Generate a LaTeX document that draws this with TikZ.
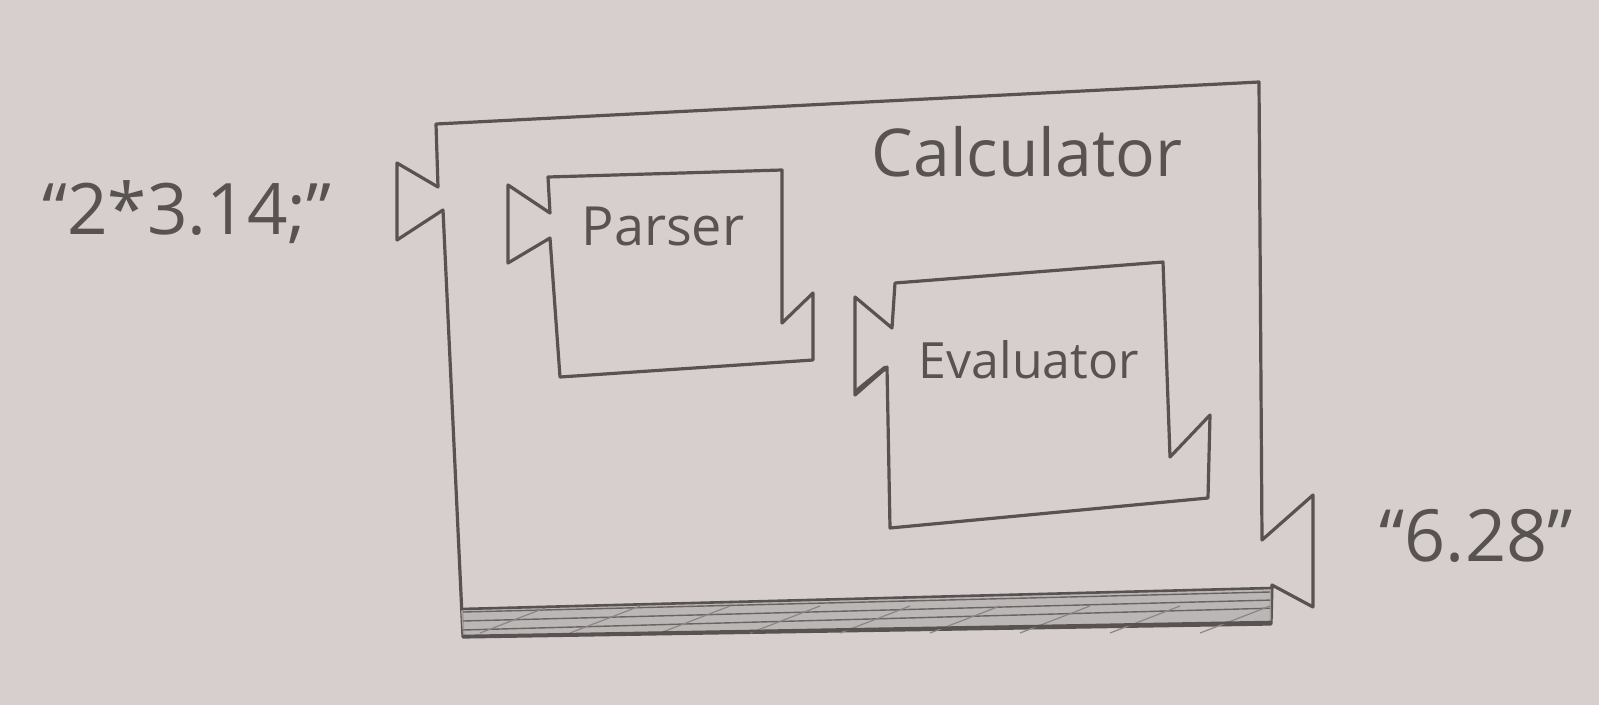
\documentclass[tikz,border=0pt]{standalone}
\usepackage{fontspec}
\setmainfont{Open Sans}
\definecolor{paper}{RGB}{214,207,205}
\definecolor{pencil}{RGB}{88,82,81}
\begin{document}
\begin{tikzpicture}[x=1pt,y=-1pt,
  sketch/.style={draw=pencil,line width=3.2pt,line join=round,line cap=round},
  hand/.style={text=pencil,inner sep=0pt,font=\fontsize{#1}{#1}\selectfont},
  hand/.default=50]
  % paper
  \fill[paper] (0,0) rectangle (1599,705);
  \useasboundingbox (0,0) rectangle (1599,705);

  % Calculator component with input port (left) and output port (bottom right)
  \draw[sketch] (436,124) -- (1259,82) -- (1262,540) -- (1313,495) -- (1313,607)
    -- (1272,585) -- (1271,624) -- (463,637) -- (443,210) -- (397,240)
    -- (397,163) -- (438,187) -- cycle;
  % shaded base bar
  \fill[pencil!45,opacity=0.8] (461,609) -- (1271,588) -- (1271,622) -- (463,636) -- cycle;
  \foreach \dy in {0,9,18} {
    \draw[pencil!90,line width=1.4pt] (463,{612+\dy}) -- (1270,{592+\dy*0.9});
  }
  \foreach \xx in {480,570,660,750,840,930,1020,1110,1200} {
    \draw[pencil!70,line width=1.2pt] (\xx,633) -- ({\xx+70},606);
  }
  \draw[pencil,line width=2.6pt] (461,609) -- (1271,588);
  \draw[pencil,line width=2.6pt] (463,636) -- (1271,622);

  % Parser
  \draw[sketch] (548,177) -- (782,170) -- (782,323) -- (813,293) -- (813,360)
    -- (560,377) -- (550,238) -- (508,263) -- (508,185) -- (550,213) -- cycle;

  % Evaluator
  \draw[sketch] (895,283) -- (1163,262) -- (1170,457) -- (1210,415) -- (1208,498)
    -- (890,528) -- (887,367) -- (855,395) -- (855,297) -- (892,328) -- cycle;
  \draw[pencil,line width=4.5pt,line cap=round] (858,390) -- (885,368);

  % labels
  \node[hand=66] (calc) at (1027,152) {Calculator};
  \node[hand=54] (parser) at (663,226) {Parser};
  \node[hand=50] (eval) at (1029,360) {Evaluator};
  \node[hand=71] (in) at (187,212) {“2*3.14;”};
  \node[hand=72] (out) at (1476,536) {“6.28”};
\end{tikzpicture}
\end{document}
